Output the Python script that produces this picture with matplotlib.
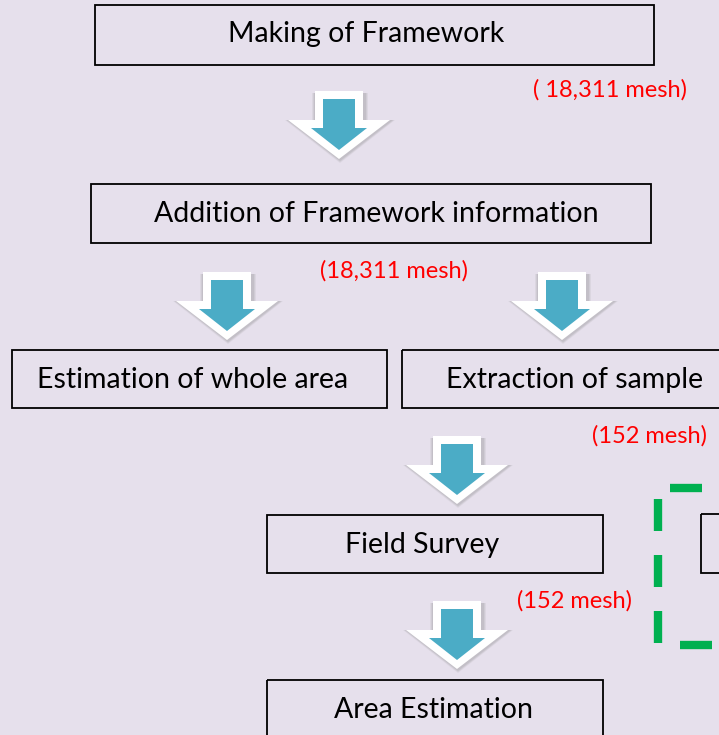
import matplotlib
matplotlib.use("Agg")
import matplotlib.pyplot as plt
from matplotlib.patches import Rectangle, Polygon

W, H = 719, 735
BG = "#E6E0EC"
TEAL = "#4BACC6"

# Boxes (pixel coords)
box_x0 = [95, 91, 12, 402, 267, 267, 701]
box_y0 = [5, 184, 350, 350, 515, 680, 514]
box_x1 = [654, 651, 387, 730, 603, 603, 740]
box_y1 = [65, 243, 408, 408, 573, 745, 573]

# Box labels and their centres
box_labels = ["Making of Framework", "Addition of Framework information",
              "Estimation of whole area", "Extraction of sample",
              "Field Survey", "Area Estimation"]
label_x = [366, 376, 193, 575, 422, 433]
label_y = [34, 214, 380, 380, 545, 710]

# Mesh notes
note_texts = ["( 18,311 mesh)", "(18,311 mesh)", "(152 mesh)", "(152 mesh)"]
note_x = [687, 394, 707, 632]
note_y = [90, 271, 436, 601]
note_ha = ["right", "center", "right", "right"]

# Arrows: center x, top y
arrow_cx = [339, 227, 562, 457, 457]
arrow_top = [91, 272, 272, 436, 601]

fig = plt.figure(figsize=(W / 100, H / 100), dpi=100)
fig.patch.set_facecolor(BG)
ax = fig.add_axes([0, 0, 1, 1])
ax.set_xlim(0, W)
ax.set_ylim(H, 0)
ax.axis("off")
ax.set_facecolor(BG)

FONT = ["Lato", "DejaVu Sans"]

for x0, y0, x1, y1 in zip(box_x0, box_y0, box_x1, box_y1):
    ax.add_patch(Rectangle((x0, y0), x1 - x0, y1 - y0, facecolor="none",
                           edgecolor="black", lw=1.3, clip_on=True))

for lab, x, y in zip(box_labels, label_x, label_y):
    ax.text(x, y, lab, ha="center", va="center", fontsize=20.5, family=FONT, color="black")

for t, x, y, ha in zip(note_texts, note_x, note_y, note_ha):
    ax.text(x, y, t, ha=ha, va="center", fontsize=17, family=FONT, color="#FF0000")


def arrow_poly(cx, top, hw, sw, hstart, tip):
    return [(cx - sw, top), (cx + sw, top), (cx + sw, hstart), (cx + hw, hstart),
            (cx, tip), (cx - hw, hstart), (cx - sw, hstart)]


for cx, top in zip(arrow_cx, arrow_top):
    for k, a in [(4, 0.10), (3, 0.12), (2, 0.15)]:
        ax.add_patch(Polygon(arrow_poly(cx + 1, top + 2, 51 + k, 24 + k, top + 29, top + 68 + k),
                             closed=True, facecolor="#7F7F7F", edgecolor="none", alpha=a))
    ax.add_patch(Polygon(arrow_poly(cx, top, 51, 24, top + 29, top + 68),
                         closed=True, facecolor="white", edgecolor="none"))
    ax.add_patch(Polygon(arrow_poly(cx, top + 8, 28, 16, top + 37, top + 59),
                         closed=True, facecolor=TEAL, edgecolor="none"))

# Green dashed bracket
GREEN = "#00B050"
ax.plot([670, 702], [488, 488], color=GREEN, lw=6, solid_capstyle="butt")
for y0, y1 in [(499, 531), (555, 587), (611, 643)]:
    ax.plot([658, 658], [y0, y1], color=GREEN, lw=6, solid_capstyle="butt")
ax.plot([680, 712], [645, 645], color=GREEN, lw=6, solid_capstyle="butt")

fig.savefig("out.png", dpi=100, facecolor=BG)
